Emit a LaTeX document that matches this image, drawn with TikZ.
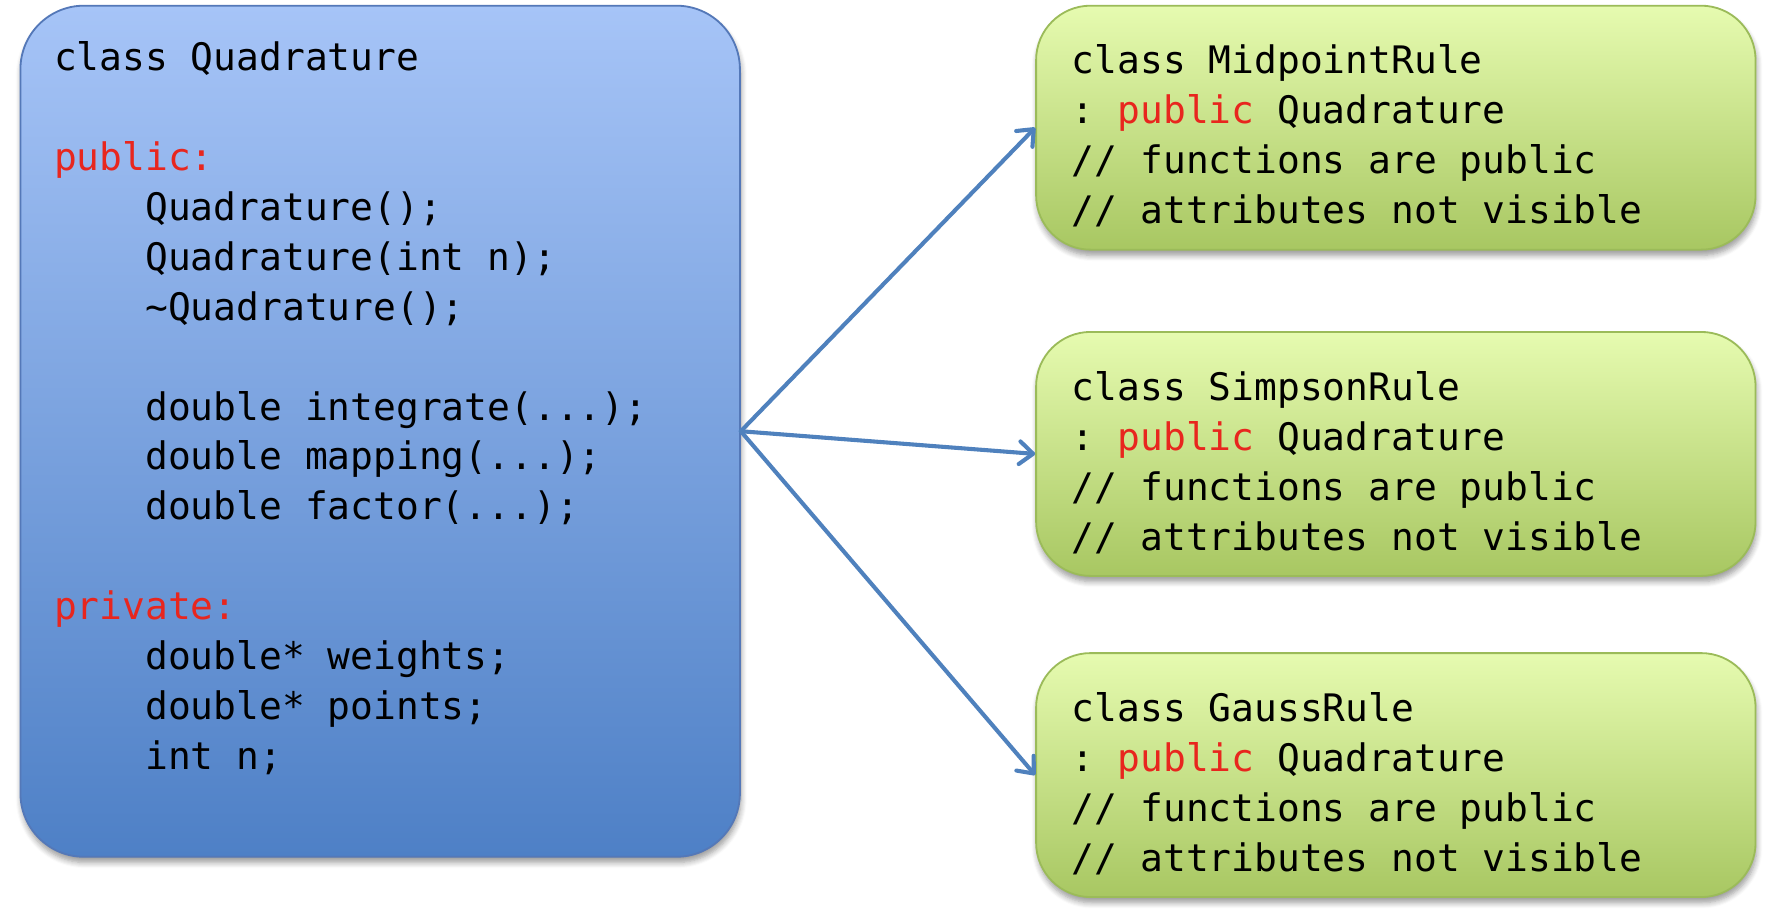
\documentclass[tikz,border=0pt]{standalone}
\usepackage{fontspec}
\setmonofont{DejaVu Sans Mono}
\usetikzlibrary{arrows.meta,shadows.blur}

\definecolor{baseTop}{RGB}{166,196,247}
\definecolor{baseBottom}{RGB}{78,128,198}
\definecolor{baseLine}{RGB}{84,120,184}
\definecolor{derivedTop}{RGB}{230,251,176}
\definecolor{derivedBottom}{RGB}{168,199,98}
\definecolor{derivedLine}{RGB}{155,187,89}
\definecolor{arrowBlue}{RGB}{79,129,189}
\definecolor{codeRed}{RGB}{232,38,30}

\newcommand{\ind}{\phantom{0000}}
\newcommand{\kw}[1]{\textcolor{codeRed}{#1}}

\tikzstyle{classbox}=[inner sep=0pt,line width=0.8pt,
    blur shadow={shadow xshift=0.5pt,shadow yshift=-2.5pt,shadow blur radius=2.5pt,shadow blur steps=6}]
\tikzstyle{basebox}=[classbox,draw=baseLine,top color=baseTop,bottom color=baseBottom,
    minimum width=317pt,minimum height=375pt,rounded corners=28pt]
\tikzstyle{derivedbox}=[classbox,draw=derivedLine,top color=derivedTop,bottom color=derivedBottom,
    minimum width=317pt,minimum height=107.5pt,rounded corners=24pt]
\tikzstyle{code}=[anchor=north west,inner sep=0pt,align=left,
    font=\ttfamily\fontsize{16.7}{22}\selectfont]
\tikzstyle{inherit}=[-{Straight Barb[length=6pt,width=10pt,round]},line width=1.8pt,
    draw=arrowBlue,line cap=round]

\begin{document}
\begin{tikzpicture}[x=0.5pt,y=-0.5pt]
\useasboundingbox (0,0) rectangle (1565,802);
% base class
\node[basebox] (quad) at (335,380) {};
\node[code] (quadtxt) at ([shift={(30,32)}]quad.north west)
    {class Quadrature\\[22pt]
     \kw{public:}\\
     \ind Quadrature();\\
     \ind Quadrature(int n);\\
     \ind\textasciitilde Quadrature();\\[22pt]
     \ind double integrate(...);\\
     \ind double mapping(...);\\
     \ind double factor(...);\\[22pt]
     \kw{private:}\\
     \ind double* weights;\\
     \ind double* points;\\
     \ind int n;};
% derived classes
\node[derivedbox] (mid) at (1230,112.5) {};
\node[code] (midtxt) at ([shift={(32,35)}]mid.north west)
    {class MidpointRule\\
     : \kw{public} Quadrature\\
     // functions are public\\
     // attributes not visible};
\node[derivedbox] (simp) at (1230,400) {};
\node[code] (simptxt) at ([shift={(32,35)}]simp.north west)
    {class SimpsonRule\\
     : \kw{public} Quadrature\\
     // functions are public\\
     // attributes not visible};
\node[derivedbox] (gauss) at (1230,683) {};
\node[code] (gausstxt) at ([shift={(32,35)}]gauss.north west)
    {class GaussRule\\
     : \kw{public} Quadrature\\
     // functions are public\\
     // attributes not visible};
% inheritance
\path (quad.east) edge[inherit] (mid.west)
      (quad.east) edge[inherit] (simp.west)
      (quad.east) edge[inherit] (gauss.west);
\end{tikzpicture}
\end{document}
